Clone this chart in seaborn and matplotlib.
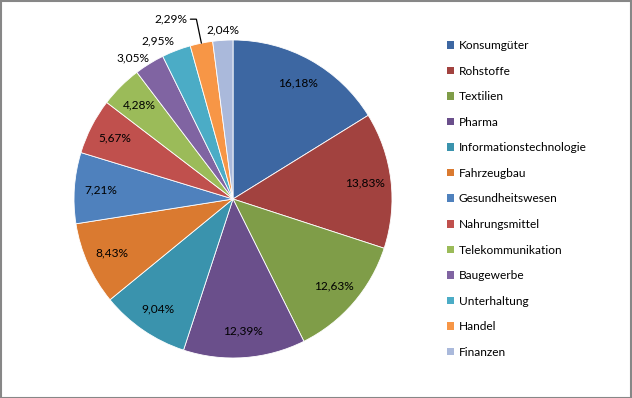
import matplotlib
matplotlib.use("Agg")
import matplotlib.pyplot as plt
import seaborn as sns
import numpy as np
from matplotlib.patches import Patch, Rectangle

categories = ["Konsumgüter", "Rohstoffe", "Textilien", "Pharma",
              "Informationstechnologie", "Fahrzeugbau", "Gesundheitswesen",
              "Nahrungsmittel", "Telekommunikation", "Baugewerbe",
              "Unterhaltung", "Handel", "Finanzen"]
shares = [16.18, 13.83, 12.63, 12.39, 9.04, 8.43, 7.21, 5.67, 4.28, 3.05, 2.95, 2.29, 2.04]
labels = ["16,18%", "13,83%", "12,63%", "12,39%", "9,04%", "8,43%", "7,21%",
          "5,67%", "4,28%", "3,05%", "2,95%", "2,29%", "2,04%"]

colors = sns.color_palette(["#3D67A2", "#A2423F", "#7F9D48", "#6A4F8B", "#3A93AD",
                            "#DA7A30", "#4F81BD", "#C0504D", "#9BBB59", "#8064A2",
                            "#4BACC6", "#F79646", "#AAB9DB"])

sns.set_theme(style="white")
plt.rcParams["font.family"] = ["Lato", "DejaVu Sans"]

W, H = 632, 398
fig = plt.figure(figsize=(W / 100, H / 100), dpi=100)
fig.patch.set_facecolor("white")
ax = fig.add_axes([0, 0, 1, 1])

R = 159.0          # pie radius in pixels
cx, cy = 233.0, 199.0  # pie centre in pixels (from top-left)

wedges, _ = ax.pie(shares, colors=colors, startangle=90, counterclock=False,
                   radius=1.0, center=(0, 0),
                   wedgeprops=dict(edgecolor="white", linewidth=0.6))

ax.set_xlim(-cx / R, (W - cx) / R)
ax.set_ylim(-(H - cy) / R, cy / R)
ax.set_aspect("equal")
ax.axis("off")

fs = 8.6
inside_dist = 0.835
for i, (w, lab) in enumerate(zip(wedges, labels)):
    mid = np.deg2rad((w.theta1 + w.theta2) / 2)
    ux, uy = np.cos(mid), np.sin(mid)
    if i <= 8:
        ax.text(inside_dist * ux, inside_dist * uy, lab, ha="center", va="center",
                fontsize=fs, color="#000000")
    elif i == 11:
        ex, ey = ux, uy
        p1 = (ex - 5 / R, ey + 24 / R)
        p2 = (ex - 11 / R, ey + 24 / R)
        ax.plot([ex, p1[0], p2[0]], [ey, p1[1], p2[1]], color="black", lw=0.9,
                solid_joinstyle="miter")
        ax.text(p2[0] - 3 / R, p2[1], lab, ha="right", va="center",
                fontsize=fs, color="#000000")
    else:
        d = 1.0 if i == 9 else 1.03
        ha = "center" if abs(ux) < 0.1 else ("right" if ux < 0 else "left")
        ax.text(d * ux, d * uy, lab, ha=ha, va="bottom", fontsize=fs, color="#000000")

handles = [Patch(facecolor=c, edgecolor="none") for c in colors]
leg = fig.legend(handles, categories, loc="upper left",
                 bbox_to_anchor=(441 / W, 1 - 34 / H), frameon=False,
                 fontsize=fs, handlelength=0.6, handleheight=0.6,
                 handletextpad=0.4, labelspacing=1.22, borderpad=0)
for t in leg.get_texts():
    t.set_color("#000000")

fig.add_artist(Rectangle((0.5 / W, 0.5 / H), 1 - 1.5 / W, 1 - 1.5 / H,
                         transform=fig.transFigure, fill=False,
                         edgecolor="#878787", linewidth=1.5))

fig.savefig("out.png", dpi=100, facecolor="white")
